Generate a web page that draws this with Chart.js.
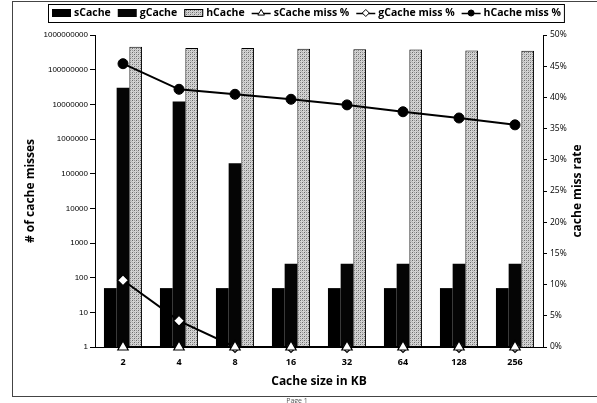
<!DOCTYPE html>
<html>
<head>
<meta charset="utf-8">
<script src="https://cdn.jsdelivr.net/npm/chart.js@4/dist/chart.umd.min.js"></script>
<style>
  html, body { margin: 0; padding: 0; background: #fff; }
  #wrap { width: 597px; height: 403px; position: relative; }
</style>
</head>
<body>
<div id="wrap"><canvas id="c" width="597" height="403"></canvas></div>
<script>
// Cache sizes (KB) on the category axis
const cacheSizes = ['2', '4', '8', '16', '32', '64', '128', '256'];

// Number of cache misses (left, logarithmic axis)
const sCacheMisses = [50, 50, 50, 50, 50, 50, 50, 50];
const gCacheMisses = [30000000, 12000000, 200000, 250, 250, 250, 250, 250];
const hCacheMisses = [460000000, 420000000, 420000000, 400000000, 390000000, 380000000, 360000000, 350000000];

// Cache miss rate in percent (right axis)
const sCacheMissPct = [0, 0, 0, 0, 0, 0, 0, 0];
const gCacheMissPct = [10.7, 4.2, 0, 0, 0, 0, 0, 0];
const hCacheMissPct = [45.4, 41.3, 40.5, 39.7, 38.8, 37.7, 36.7, 35.6];

// Tick values
const countTicks = [1, 10, 100, 1000, 10000, 100000, 1000000, 10000000, 100000000, 1000000000];
const rateTicks = [0, 5, 10, 15, 20, 25, 30, 35, 40, 45, 50];

const FONT = '"Open Sans", "Liberation Sans", sans-serif';
const canvas = document.getElementById('c');
const ctx = canvas.getContext('2d');

// grey stipple used for the hCache bars
function makeStipple() {
  const t = document.createElement('canvas');
  t.width = 4; t.height = 4;
  const g = t.getContext('2d');
  g.fillStyle = '#d4d4d4'; g.fillRect(0, 0, 4, 4);
  g.fillStyle = '#6a6a6a'; g.fillRect(0, 0, 1, 1); g.fillRect(2, 2, 1, 1);
  g.fillStyle = '#9a9a9a'; g.fillRect(2, 0, 1, 1); g.fillRect(0, 2, 1, 1);
  g.fillStyle = '#bcbcbc'; g.fillRect(1, 3, 1, 1); g.fillRect(3, 1, 1, 1);
  return ctx.createPattern(t, 'repeat');
}
const stipple = makeStipple();

function drawMarker(c, style, x, y, r) {
  c.save();
  c.lineWidth = 1;
  c.strokeStyle = '#000';
  c.beginPath();
  if (style === 'triangle') {
    c.moveTo(x, y - r);
    c.lineTo(x + r * 0.95, y + r * 0.6);
    c.lineTo(x - r * 0.95, y + r * 0.6);
    c.closePath();
    c.fillStyle = '#fff';
  } else if (style === 'rectRot') {
    c.moveTo(x, y - r); c.lineTo(x + r, y); c.lineTo(x, y + r); c.lineTo(x - r, y);
    c.closePath();
    c.fillStyle = '#fff';
  } else {
    c.arc(x, y, r, 0, Math.PI * 2);
    c.fillStyle = '#000';
  }
  c.fill();
  c.stroke();
  c.restore();
}

// legend, right axis title and page frame
const decorations = {
  id: 'decorations',
  afterDraw(chart) {
    const c = chart.ctx;
    c.save();

    // frame around the chart
    c.strokeStyle = '#444';
    c.lineWidth = 1;
    c.strokeRect(12.5, 1.5, 600, 395);

    // legend
    c.font = 'bold 10.5px ' + FONT;
    c.textBaseline = 'middle';
    c.textAlign = 'left';
    const glyphW = 19, gap = 3, itemGap = 7;
    const items = chart.data.datasets.map(ds => ({ ds, w: glyphW + gap + c.measureText(ds.label).width }));
    const total = items.reduce((s, it) => s + it.w, 0) + itemGap * (items.length - 1);
    const cy = 13;
    let x = Math.round(306 - total / 2);
    const boxLeft = x - 4, boxRight = x + total + 3;
    c.fillStyle = '#fff';
    c.fillRect(boxLeft, 4, boxRight - boxLeft, 18);
    c.strokeStyle = '#000';
    c.strokeRect(boxLeft + 0.5, 4.5, boxRight - boxLeft, 18);
    items.forEach(it => {
      const ds = it.ds;
      if (ds.type === 'bar') {
        c.fillStyle = ds.backgroundColor;
        c.fillRect(x, cy - 4, glyphW, 8);
        if (ds.borderWidth) {
          c.strokeStyle = '#000';
          c.strokeRect(x + 0.5, cy - 3.5, glyphW - 1, 7);
        }
      } else {
        c.strokeStyle = '#000';
        c.lineWidth = 1.5;
        c.beginPath();
        c.moveTo(x, cy + 0.5); c.lineTo(x + glyphW, cy + 0.5);
        c.stroke();
        c.lineWidth = 1;
        drawMarker(c, ds.pointStyle, x + glyphW / 2, cy, ds.pointStyle === 'circle' ? 3 : 3.5);
      }
      c.fillStyle = '#000';
      c.fillText(ds.label, x + glyphW + gap, cy + 0.5);
      x += it.w + itemGap;
    });

    // right axis title, reading bottom to top
    const area = chart.chartArea;
    c.save();
    c.translate(578, (area.top + area.bottom) / 2);
    c.rotate(-Math.PI / 2);
    c.textAlign = 'center';
    c.textBaseline = 'middle';
    c.font = 'bold 12px ' + FONT;
    c.fillStyle = '#000';
    c.fillText('cache miss rate', 0, 0);
    c.restore();

    // page footer
    c.font = '7px ' + FONT;
    c.fillStyle = '#555';
    c.textAlign = 'center';
    c.textBaseline = 'top';
    c.fillText('Page 1', 297, 397);
    c.restore();
  }
};

new Chart(ctx, {
  data: {
    labels: cacheSizes,
    datasets: [
      { type: 'bar', label: 'sCache', data: sCacheMisses, yAxisID: 'y', backgroundColor: '#000', borderWidth: 0, order: 1 },
      { type: 'bar', label: 'gCache', data: gCacheMisses, yAxisID: 'y', backgroundColor: '#050505', borderWidth: 0, order: 1 },
      { type: 'bar', label: 'hCache', data: hCacheMisses, yAxisID: 'y', backgroundColor: stipple, borderColor: '#000', borderWidth: 1, order: 1 },
      { type: 'line', label: 'sCache miss %', data: sCacheMissPct, yAxisID: 'y1', borderColor: '#000', borderWidth: 2,
        pointStyle: 'triangle', pointRadius: 6, pointBackgroundColor: '#fff', pointBorderColor: '#000', pointBorderWidth: 1.2,
        tension: 0, clip: false, order: 0 },
      { type: 'line', label: 'gCache miss %', data: gCacheMissPct, yAxisID: 'y1', borderColor: '#000', borderWidth: 2,
        pointStyle: 'rectRot', pointRadius: 5.5, pointBackgroundColor: '#fff', pointBorderColor: '#000', pointBorderWidth: 1.2,
        tension: 0, clip: false, order: 0 },
      { type: 'line', label: 'hCache miss %', data: hCacheMissPct, yAxisID: 'y1', borderColor: '#000', borderWidth: 2,
        pointStyle: 'circle', pointRadius: 5, pointBackgroundColor: '#000', pointBorderColor: '#000', pointBorderWidth: 1,
        tension: 0, clip: false, order: 0 }
    ]
  },
  options: {
    responsive: false,
    animation: false,
    devicePixelRatio: 1,
    layout: { padding: { top: 35, left: 0, right: 0, bottom: 0 } },
    datasets: { bar: { categoryPercentage: 0.68, barPercentage: 1.0 } },
    plugins: { legend: { display: false }, tooltip: { enabled: false } },
    scales: {
      x: {
        grid: { display: false, drawTicks: false },
        border: { display: true, color: '#000', width: 1 },
        ticks: { color: '#000', font: { family: FONT, size: 9, weight: 'bold' }, padding: 10, maxRotation: 0 },
        title: { display: true, text: 'Cache size in KB', color: '#000', font: { family: FONT, size: 12, weight: 'bold' }, padding: { top: 0, bottom: 14 } },
        afterFit(s) { s.height = 56; }
      },
      y: {
        type: 'logarithmic',
        position: 'left',
        min: 1,
        max: 1000000000,
        afterBuildTicks(s) { s.ticks = countTicks.map(v => ({ value: v, major: false })); },
        ticks: { color: '#000', font: { family: '"Liberation Sans", sans-serif', size: 8 }, padding: 2, autoSkip: false,
                 callback: v => String(v) },
        grid: { drawOnChartArea: false, drawTicks: true, tickLength: 5, color: '#000' },
        border: { display: true, color: '#000', width: 1 },
        title: { display: true, text: '# of cache misses', color: '#000', font: { family: FONT, size: 12, weight: 'bold' }, padding: { top: 23, bottom: 0 } },
        afterFit(s) { s.width = 95; }
      },
      y1: {
        type: 'linear',
        position: 'right',
        min: 0,
        max: 50,
        afterBuildTicks(s) { s.ticks = rateTicks.map(v => ({ value: v })); },
        ticks: { color: '#000', font: { family: FONT, size: 8.5 }, padding: 3, callback: v => v + '%' },
        grid: { drawOnChartArea: false, drawTicks: true, tickLength: 4, color: '#000' },
        border: { display: true, color: '#000', width: 1 },
        afterFit(s) { s.width = 54; }
      }
    }
  },
  plugins: [decorations]
});
</script>
</body>
</html>
